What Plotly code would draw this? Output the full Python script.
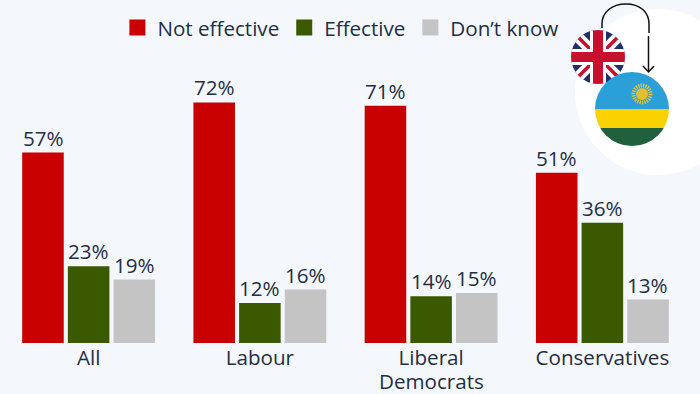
import base64
import plotly.graph_objects as go

categories = ["All", "Labour", "Liberal Democrats", "Conservatives"]
tick_labels = ["All", "Labour", "Liberal", "Conservatives"]
second_line = "Democrats"
not_effective = [57, 72, 71, 51]
effective = [23, 12, 14, 36]
dont_know = [19, 16, 15, 13]

series = [("Not effective", not_effective, "#c80000"),
          ("Effective", effective, "#3b5a00"),
          ("Don’t know", dont_know, "#c4c4c4")]
INK = "#1f2e45"
BG = "#f4f7fb"
W, H = 700, 394
FS = 20.6
GROUP_STEP = 45.6

fig = go.Figure()
for name, vals, col in series:
    fig.add_bar(x=categories, y=vals, marker=dict(color=col, line_width=0), showlegend=False,
                hoverinfo="skip")
for name, vals, col in series:
    fig.add_scatter(x=[None], y=[None], mode="markers", name=name,
                    marker=dict(symbol="square", size=16, color=col))
for i, (name, vals, col) in enumerate(series):
    for cat, v in zip(categories, vals):
        fig.add_annotation(x=cat, y=v, xref="x", yref="y", text=f"{v}%", showarrow=False,
                           yanchor="bottom", xshift=(i - 1) * GROUP_STEP, yshift=-1,
                           font=dict(size=FS, color=INK))
fig.add_annotation(x=categories[2], y=0, xref="x", yref="y", text=second_line, showarrow=False,
                   yanchor="middle", yshift=-37.5, font=dict(size=FS, color=INK))

svg = f'''<svg xmlns="http://www.w3.org/2000/svg" width="{W}" height="{H}" viewBox="0 0 {W} {H}">
<defs><clipPath id="uk"><circle cx="598" cy="57" r="27"/></clipPath>
<clipPath id="rw"><circle cx="632" cy="109" r="37"/></clipPath></defs>
<circle cx="658" cy="92" r="83" fill="#ffffff"/>
<g clip-path="url(#uk)"><rect x="570" y="29" width="56" height="56" fill="#1f2f6e"/>
<path d="M571 30L625 84M625 30L571 84" stroke="#fff" stroke-width="11"/>
<path d="M571 30L625 84M625 30L571 84" stroke="#c8102e" stroke-width="3.5"/>
<path d="M598 29V85M570 57H626" stroke="#fff" stroke-width="16"/>
<path d="M598 29V85M570 57H626" stroke="#c8102e" stroke-width="10"/></g>
<g clip-path="url(#rw)"><rect x="595" y="72" width="74" height="37" fill="#2a9fd8"/>
<rect x="595" y="109" width="74" height="19" fill="#fad201"/>
<rect x="595" y="128" width="74" height="18" fill="#20603d"/>
<circle cx="642" cy="94" r="8.500" fill="none" stroke="#e5c63a" stroke-width="4" stroke-dasharray="1.300 1.100"/>
<circle cx="642" cy="94" r="6" fill="#e5be30"/></g>
<path d="M602 28V24C602 12 612 4 626 4C640 4 649 12 649 24V33M648.500 36V71" fill="none" stroke="#111" stroke-width="1.500"/>
<path d="M643 66L648.500 72L654 66" fill="none" stroke="#111" stroke-width="1.500"/>
</svg>'''
uri = "data:image/svg+xml;base64," + base64.b64encode(svg.encode()).decode()

fig.update_layout(
    width=W, height=H, paper_bgcolor=BG, plot_bgcolor="rgba(0,0,0,0)",
    font=dict(family="Open Sans", size=FS, color=INK),
    margin=dict(l=3, r=12, t=40, b=51, autoexpand=False),
    barmode="group", bargap=0.2, bargroupgap=0.09,
    xaxis=dict(showgrid=False, zeroline=False, showline=False, ticks="", automargin=False,
               tickmode="array", tickvals=categories, ticktext=tick_labels,
               tickfont=dict(size=FS, color=INK)),
    yaxis=dict(range=[0, 90.7], visible=False, automargin=False),
    legend=dict(orientation="h", x=0.167, xanchor="left", y=1.107, yanchor="top",
                bgcolor="rgba(0,0,0,0)", font=dict(size=FS, color=INK), itemclick=False,
                itemdoubleclick=False),
    images=[dict(source=uri, xref="paper", yref="paper",
                 x=-3 / 685, y=1 + 40 / 303, sizex=W / 685, sizey=H / 303,
                 xanchor="left", yanchor="top", sizing="stretch", layer="below")],
)
fig.write_html("out.html", config={"displayModeBar": False},
               post_script="document.body.style.margin='0';document.documentElement.style.background='#f4f7fb';")
